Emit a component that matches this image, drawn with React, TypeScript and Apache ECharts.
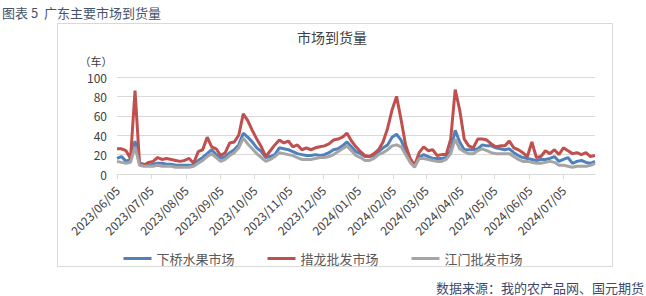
import React, { useEffect, useRef } from "react";
import * as echarts from "echarts";

const TICK_LABELS = [
  "2023/06/05", "2023/07/05", "2023/08/05", "2023/09/05", "2023/10/05", "2023/11/05", "2023/12/05",
  "2024/01/05", "2024/02/05", "2024/03/05", "2024/04/05", "2024/05/05", "2024/06/05", "2024/07/05",
];
const START_DATE = "2023/06/05";
const END_DATE = "2024/08/02";
const STEP_DAYS = 4;

const SERIES_NAMES = ["下桥水果市场", "措龙批发市场", "江门批发市场"];

const XIAQIAO = [
  16, 18, 13, 15, 34, 11, 10, 9, 10, 11,
  11, 10, 10, 9, 9, 9, 9, 9, 14, 17,
  21, 25, 20, 16, 18, 22, 25, 30, 42, 38,
  33, 27, 23, 17, 18, 20, 27, 26, 25, 23,
  21, 20, 19, 19, 20, 19, 20, 22, 25, 26,
  29, 33, 28, 23, 21, 18, 18, 19, 23, 27,
  30, 38, 41, 35, 24, 16, 9, 17, 20, 18,
  16, 16, 16, 17, 24, 45, 33, 25, 25, 25,
  26, 30, 29, 29, 27, 26, 25, 26, 22, 19,
  17, 16, 15, 14, 15, 15, 16, 18, 13, 15,
  17, 11, 13, 14, 12, 11, 13,
];
const CUOLONG = [
  26, 26, 24, 16, 86, 11, 9, 12, 13, 17,
  15, 16, 15, 14, 13, 14, 16, 11, 23, 25,
  38, 28, 26, 19, 22, 32, 33, 40, 62, 55,
  45, 36, 28, 18, 24, 30, 35, 32, 34, 28,
  30, 25, 27, 25, 27, 28, 29, 31, 35, 36,
  38, 42, 34, 28, 23, 19, 18, 21, 25, 33,
  47, 66, 80, 56, 30, 16, 9, 22, 28, 24,
  25, 19, 20, 20, 36, 87, 66, 36, 29, 27,
  36, 36, 35, 31, 28, 29, 29, 34, 27, 25,
  22, 18, 33, 17, 18, 24, 21, 25, 20, 27,
  24, 21, 22, 20, 22, 18, 19,
];
const JIANGMEN = [
  13, 12, 11, 12, 28, 9, 8, 8, 8, 9,
  8, 8, 8, 7, 7, 7, 7, 8, 11, 14,
  18, 21, 17, 13, 15, 19, 22, 27, 37, 31,
  26, 21, 17, 13, 15, 18, 22, 21, 20, 19,
  17, 15, 15, 15, 16, 17, 17, 18, 20, 23,
  26, 29, 24, 19, 17, 14, 14, 16, 20, 22,
  25, 29, 30, 28, 20, 12, 7, 16, 16, 15,
  14, 13, 13, 15, 21, 36, 26, 23, 21, 21,
  24, 26, 24, 22, 21, 21, 21, 21, 18, 15,
  13, 13, 12, 11, 11, 12, 13, 12, 9, 9,
  8, 7, 8, 8, 8, 9, 11,
];

function dayIndex(s: string): number {
  const [y, m, d] = s.split("/").map(Number);
  const [y0, m0, d0] = START_DATE.split("/").map(Number);
  return Math.round((Date.UTC(y, m - 1, d) - Date.UTC(y0, m0 - 1, d0)) / 86400000);
}

export default function App() {
  const ref = useRef<HTMLDivElement>(null);
  useEffect(() => {
    if (!ref.current) return;
    const chart = echarts.init(ref.current, null, { renderer: "svg" });
    const tickDays = TICK_LABELS.map(dayIndex);
    const labelMap: Record<number, string> = {};
    tickDays.forEach((d, i) => (labelMap[d] = TICK_LABELS[i]));
    const maxDay = dayIndex(END_DATE);
    const mk = (vals: number[]) => vals.map((v, i) => [i * STEP_DAYS, v]);
    const colors = ["#4f81bd", "#c0504d", "#a5a5a5"];
    const datasets = [XIAQIAO, CUOLONG, JIANGMEN];
    chart.setOption({
      animation: false,
      textStyle: { fontFamily: "'Noto Sans CJK SC', 'Liberation Sans', sans-serif" },
      grid: { left: 117, right: 51, top: 77, bottom: 122 },
      graphic: [
        {
          type: "rect",
          shape: { x: 57.5, y: 23.5, width: 555, height: 243 },
          style: { fill: "none", stroke: "#d9d9d9", lineWidth: 1 },
          silent: true,
        },
        {
          type: "text",
          x: 2,
          y: 12,
          style: {
            text: "图表 5  广东主要市场到货量",
            fill: "#44546a",
            font: "13px 'Noto Sans CJK SC', sans-serif",
            textVerticalAlign: "middle",
          },
        },
        {
          type: "text",
          x: 332,
          y: 37,
          style: {
            text: "市场到货量",
            fill: "#404040",
            font: "14px 'Noto Sans CJK SC', sans-serif",
            textAlign: "center",
            textVerticalAlign: "middle",
          },
        },
        {
          type: "text",
          x: 96,
          y: 61,
          style: {
            text: "（车）",
            fill: "#404040",
            font: "11px 'Noto Sans CJK SC', sans-serif",
            textAlign: "center",
            textVerticalAlign: "middle",
          },
        },
        {
          type: "text",
          x: 644,
          y: 287,
          style: {
            text: "数据来源：我的农产品网、国元期货",
            fill: "#3b4a6b",
            font: "13px 'Noto Sans CJK SC', sans-serif",
            textAlign: "right",
            textVerticalAlign: "middle",
          },
        },
      ],
      legend: {
        top: 247,
        left: "center",
        icon: "rect",
        itemWidth: 28,
        itemHeight: 3,
        itemGap: 33,
        textStyle: { fontSize: 13, color: "#595959" },
        data: SERIES_NAMES,
      },
      xAxis: {
        type: "value",
        min: 0,
        max: maxDay,
        axisLine: { show: true, lineStyle: { color: "#d9d9d9" } },
        axisTick: {
          show: true,
          customValues: tickDays,
          length: 5,
          lineStyle: { color: "#d9d9d9" },
        },
        axisLabel: {
          customValues: tickDays,
          rotate: 45,
          margin: 14,
          fontSize: 12,
          color: "#404040",
          formatter: (v: number) => labelMap[v] ?? "",
        },
        splitLine: { show: false },
      },
      yAxis: {
        type: "value",
        min: 0,
        max: 100,
        interval: 20,
        axisLine: { show: false },
        axisTick: { show: false },
        axisLabel: { fontSize: 12, color: "#404040", margin: 10 },
        splitLine: { lineStyle: { color: "#d9d9d9" } },
      },
      series: SERIES_NAMES.map((name, i) => ({
        name,
        type: "line",
        data: mk(datasets[i]),
        showSymbol: false,
        symbol: "none",
        lineStyle: { width: 3, color: colors[i] },
        itemStyle: { color: colors[i] },
        z: 2 + i,
      })),
    });
    return () => chart.dispose();
  }, []);
  return (
    <div
      ref={ref}
      style={{ position: "fixed", left: 0, top: 0, width: 646, height: 296, background: "#fff" }}
    />
  );
}
